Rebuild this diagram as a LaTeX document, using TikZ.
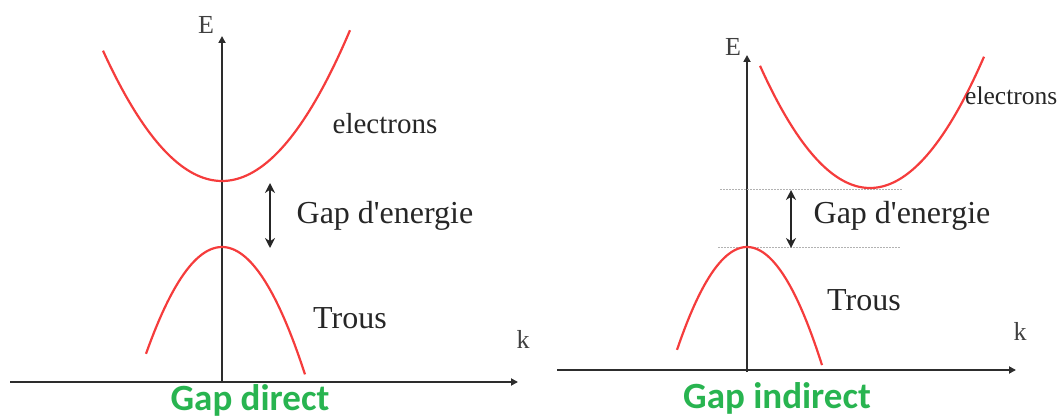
\documentclass[tikz,border=0pt]{standalone}
\usepackage{fontspec}
\setmainfont{Liberation Serif}
\newfontfamily\greenfont{Carlito}
\usetikzlibrary{arrows.meta}
\definecolor{bandred}{RGB}{245,60,60}
\definecolor{gapgreen}{RGB}{40,180,80}
\definecolor{axisgray}{RGB}{45,45,45}
\tikzset{
  axis/.style={draw=axisgray, line width=2.6pt, -{Triangle[length=7pt,width=7pt]}},
  band/.style={draw=bandred, line width=2.2pt},
  gaparrow/.style={draw=black!85, line width=2.4pt, {Stealth[length=10pt,width=10pt]}-{Stealth[length=10pt,width=10pt]}},
  level/.style={draw=gray!60, dash pattern=on 2pt off 1pt, line width=0.8pt},
  lbl/.style={inner sep=0pt, text=black!85, font=\fontsize{32}{34}\selectfont},
  axlbl/.style={inner sep=0pt, text=black!75, font=\fontsize{26}{28}\selectfont},
  title/.style={inner sep=0pt, text=gapgreen, font=\greenfont\bfseries\fontsize{37}{40}\selectfont}
}
\begin{document}
\begin{tikzpicture}[x=1pt,y=-1pt]
\useasboundingbox (0,0) rectangle (1064,419);
% ---------- left panel ----------
\coordinate (Lo) at (222,382);
\coordinate (Lx0) at (10,382);
\coordinate (Lx1) at (518,382);
\coordinate (Ly1) at (222,36);
\draw[axis] (Lx0) -- (Lx1);
\draw[axis] (Lo) -- (Ly1);
\node[axlbl] (LE) at (206,25) {E};
\node[axlbl] (Lk) at (523,339) {k};
\draw[band] plot[domain=-119:128, samples=80] ({222+\x},{181-0.0092*\x*\x});
\draw[band] plot[domain=-76:83, samples=60] ({222+\x},{247+0.0185*\x*\x});
\coordinate (Lg1) at (270,183);
\coordinate (Lg2) at (270,248);
\draw[gaparrow] (Lg1) -- (Lg2);
\node[lbl, font=\fontsize{29}{31}\selectfont] (Lel) at (385,124) {electrons};
\node[lbl] (Lgap) at (385,216) {Gap d\textquotesingle energie};
\node[lbl] (Ltr) at (350,318) {Trous};
\node[title, anchor=base] (Ltitle) at (250,410) {Gap direct};
% ---------- right panel ----------
\coordinate (Ro) at (747,372);
\coordinate (Rx0) at (557,370);
\coordinate (Rx1) at (1016,370);
\coordinate (Ry1) at (747,55);
\draw[axis] (Rx0) -- (Rx1);
\draw[axis] (Ro) -- (Ry1);
\node[axlbl] (RE) at (733,47) {E};
\node[axlbl] (Rk) at (1020,331) {k};
\draw[level] (720,189) -- (902,189);
\draw[level] (718,247) -- (900,247);
\draw[band] plot[domain=-110:114, samples=80] ({870+\x},{188-0.0101*\x*\x});
\draw[band] plot[domain=-70:75, samples=60] ({747+\x},{247+0.021*\x*\x});
\coordinate (Rg1) at (791,190);
\coordinate (Rg2) at (791,248);
\draw[gaparrow] (Rg1) -- (Rg2);
\node[lbl, font=\fontsize{25.5}{27}\selectfont, anchor=west] (Rel) at (965,96) {electrons};
\node[lbl] (Rgap) at (902,216) {Gap d\textquotesingle energie};
\node[lbl] (Rtr) at (864,300) {Trous};
\node[title, anchor=base] (Rtitle) at (777,408) {Gap indirect};
\end{tikzpicture}
\end{document}
